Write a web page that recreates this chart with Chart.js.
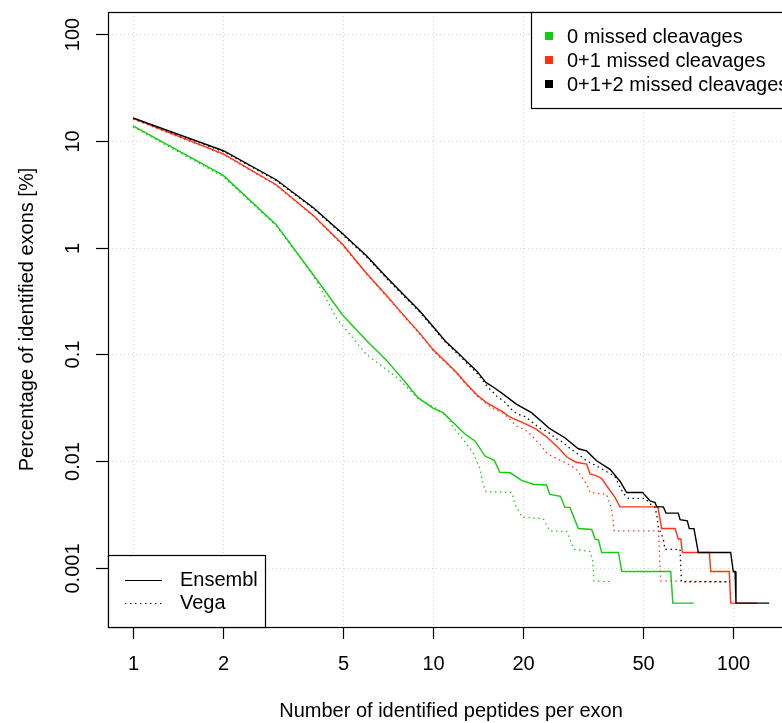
<!DOCTYPE html>
<html>
<head>
<meta charset="utf-8">
<script src="https://cdn.jsdelivr.net/npm/chart.js@4.4.0/dist/chart.umd.min.js"></script>
<style>
  html, body { margin: 0; padding: 0; background: #fff; overflow: hidden; }
  #wrap { position: relative; width: 782px; height: 723px; overflow: hidden; }
  canvas { position: absolute; left: 0; top: 0; }
</style>
</head>
<body>
<div id="wrap"><canvas id="exonChart" width="810" height="723"></canvas></div>
<script>
// Ticks of both log axes
const xTicks = [1, 2, 5, 10, 20, 50, 100];
const yTicks = [0.001, 0.01, 0.1, 1, 10, 100];
const yTickLabels = ["0.001", "0.01", "0.1", "1", "10", "100"];

// 0+1+2 missed cleavages, Ensembl (solid)
const blackEnsX = [1, 2, 3, 4, 5, 6, 7, 8, 9, 10, 11, 12, 13, 14, 15, 16, 17, 19, 21.3, 24.5, 27.5, 30.5, 32.5, 35.1, 38.9, 42, 44.2, 50, 50.9, 52.9, 55, 55.7, 58.6, 59.8, 65.7, 66.6, 70.4, 71.5, 74.1, 76.6, 98.2, 100.2, 101.6, 102.3, 132];
const blackEnsY = [16.4, 8.07, 4.32, 2.35, 1.35, 0.84, 0.528, 0.36, 0.258, 0.183, 0.133, 0.106, 0.0848, 0.0698, 0.0547, 0.0488, 0.0432, 0.0341, 0.0285, 0.0202, 0.0166, 0.0131, 0.0125, 0.0101, 0.0084, 0.0065, 0.0051, 0.0051, 0.0048, 0.00425, 0.0041, 0.00374, 0.00374, 0.00327, 0.00327, 0.00284, 0.00277, 0.00234, 0.00234, 0.0014, 0.0014, 0.00093, 0.00093, 0.00047, 0.00047];
// 0+1+2 missed cleavages, Vega (dotted)
const blackVegaX = [1, 2, 3, 4, 5, 6, 7, 8, 9, 10, 11, 12, 13, 14, 15, 16.3, 17.2, 18.5, 19.2, 20.3, 21.3, 23, 23.9, 25.9, 27.2, 27.9, 30.5, 32.5, 36, 40.4, 42, 43.1, 44.8, 50.9, 52.9, 55, 55.7, 56.4, 58.6, 59.3, 66.6, 67.3, 97.7];
const blackVegaY = [16.2, 7.95, 4.25, 2.31, 1.32, 0.82, 0.515, 0.35, 0.252, 0.178, 0.13, 0.103, 0.082, 0.067, 0.052, 0.0407, 0.0366, 0.0295, 0.0275, 0.0262, 0.0234, 0.0199, 0.0192, 0.0161, 0.015, 0.0139, 0.0116, 0.0101, 0.0087, 0.0072, 0.0057, 0.005, 0.0045, 0.0045, 0.004, 0.0037, 0.0031, 0.0024, 0.00187, 0.0015, 0.0015, 0.000745, 0.000745];

// 0+1 missed cleavages
const redEnsX = [1, 2, 3, 4, 5, 6, 7, 8, 9, 10, 11, 12, 13, 14, 15, 16, 17, 18, 20, 22, 24, 26, 28, 30, 32.5, 33.4, 35.1, 36.5, 37.9, 40.4, 42, 56.2, 57.8, 64.1, 65.7, 67, 67.8, 83.4, 84.3, 97.2, 98.2, 120];
const redEnsY = [16.2, 7.56, 3.88, 1.99, 1.07, 0.575, 0.356, 0.231, 0.16, 0.111, 0.086, 0.0675, 0.052, 0.042, 0.0358, 0.0322, 0.0293, 0.026, 0.0229, 0.0201, 0.0168, 0.0136, 0.0109, 0.0098, 0.0094, 0.0076, 0.0073, 0.0069, 0.0059, 0.0046, 0.00374, 0.00374, 0.00235, 0.00235, 0.00187, 0.00187, 0.0014, 0.0014, 0.00093, 0.00093, 0.00047, 0.00047];
const redVegaX = [1, 2, 3, 4, 5, 6, 7, 8, 9, 10, 11, 12, 13, 14, 15.7, 17.2, 19, 20.3, 21.1, 22.7, 24.2, 26.2, 28.2, 30.1, 32.5, 33.4, 37.9, 39.4, 40.2, 56.4, 57.4, 97.7];
const redVegaY = [16.0, 7.45, 3.82, 1.96, 1.05, 0.565, 0.35, 0.226, 0.157, 0.108, 0.084, 0.066, 0.051, 0.041, 0.0315, 0.0281, 0.0214, 0.0196, 0.0179, 0.0144, 0.0116, 0.0104, 0.0094, 0.0084, 0.0061, 0.0051, 0.0049, 0.00356, 0.00223, 0.00223, 0.00076, 0.000745];

// 0 missed cleavages
const greenEnsX = [1, 2, 3, 4, 5, 6, 7, 8, 8.9, 10, 10.8, 12, 12.8, 13.8, 14.9, 16, 16.7, 18.1, 19.8, 21.6, 23.9, 24.5, 26.6, 27.5, 28.6, 30.5, 33.8, 34.7, 35.6, 36.5, 41.5, 42.6, 62, 63, 74];
const greenEnsY = [13.8, 4.74, 1.64, 0.551, 0.233, 0.135, 0.088, 0.057, 0.0394, 0.0315, 0.0285, 0.0214, 0.0179, 0.0155, 0.0112, 0.0102, 0.0079, 0.0078, 0.0066, 0.0061, 0.006, 0.0049, 0.0047, 0.0037, 0.0037, 0.00235, 0.0023, 0.00187, 0.00184, 0.0014, 0.0014, 0.00093, 0.00093, 0.00047, 0.00047];
const greenVegaX = [1, 2, 3, 4, 4.8, 6, 7.6, 9, 10.3, 11.1, 11.8, 12.6, 13.6, 14.3, 14.7, 15, 18.3, 18.8, 19.8, 23.3, 24.5, 27.9, 29.5, 33.4, 34.1, 34.4, 39.6];
const greenVegaY = [13.5, 4.6, 1.6, 0.54, 0.212, 0.1, 0.0605, 0.038, 0.031, 0.0265, 0.02, 0.016, 0.012, 0.0087, 0.0061, 0.0052, 0.0051, 0.0039, 0.003, 0.0029, 0.00223, 0.0022, 0.0015, 0.00143, 0.00117, 0.00076, 0.000745];

const legendLabels = ["0 missed cleavages", "0+1 missed cleavages", "0+1+2 missed cleavages"];
const sourceLabels = ["Ensembl", "Vega"];

const GREEN = "#12cc12";
const RED = "#ff3212";
const BLACK = "#000000";
const FONT = '20px "Liberation Sans", Arial, Helvetica, sans-serif';

function pts(xs, ys) {
  return xs.map((x, i) => ({ x: x, y: ys[i] }));
}

function line(label, xs, ys, color, dotted) {
  return {
    label: label,
    data: pts(xs, ys),
    borderColor: color,
    borderWidth: dotted ? 1.3 : 1.4,
    borderDash: dotted ? [1.4, 3.6] : [],
    showLine: true,
    pointRadius: 0,
    tension: 0,
    fill: false,
  };
}

// Draw the R-style frame, ticks, grid and legends
const rFrame = {
  id: "rFrame",
  beforeDatasetsDraw(chart) {
    const ctx = chart.ctx;
    const a = chart.chartArea;
    const xs = chart.scales.x;
    const ys = chart.scales.y;
    ctx.save();
    ctx.strokeStyle = "#d4d4d4";
    ctx.lineWidth = 1;
    ctx.setLineDash([1, 3]);
    xTicks.forEach((v) => {
      const px = Math.round(xs.getPixelForValue(v)) + 0.5;
      ctx.beginPath();
      ctx.moveTo(px, a.top);
      ctx.lineTo(px, a.bottom);
      ctx.stroke();
    });
    yTicks.forEach((v) => {
      const py = Math.round(ys.getPixelForValue(v)) + 0.5;
      ctx.beginPath();
      ctx.moveTo(a.left, py);
      ctx.lineTo(a.right, py);
      ctx.stroke();
    });
    ctx.restore();
  },
  afterDatasetsDraw(chart) {
    const ctx = chart.ctx;
    const a = chart.chartArea;
    const xs = chart.scales.x;
    const ys = chart.scales.y;
    ctx.save();
    ctx.strokeStyle = "#000";
    ctx.fillStyle = "#000";
    ctx.lineWidth = 1.2;
    ctx.setLineDash([]);
    ctx.strokeRect(a.left + 0.5, a.top + 0.5, a.right - a.left, a.bottom - a.top);

    ctx.font = FONT;
    ctx.textAlign = "center";
    ctx.textBaseline = "middle";
    // x ticks
    xTicks.forEach((v) => {
      const px = Math.round(xs.getPixelForValue(v)) + 0.5;
      ctx.beginPath();
      ctx.moveTo(px, a.bottom);
      ctx.lineTo(px, a.bottom + 12);
      ctx.stroke();
      ctx.fillText(String(v), px, 664);
    });
    // y ticks (labels rotated like R's las = 0)
    yTicks.forEach((v, i) => {
      const py = Math.round(ys.getPixelForValue(v)) + 0.5;
      ctx.beginPath();
      ctx.moveTo(a.left - 12, py);
      ctx.lineTo(a.left, py);
      ctx.stroke();
      ctx.save();
      ctx.translate(73, py);
      ctx.rotate(-Math.PI / 2);
      ctx.fillText(yTickLabels[i], 0, 0);
      ctx.restore();
    });
    // axis titles
    ctx.fillText("Number of identified peptides per exon", (a.left + a.right) / 2, 711);
    ctx.save();
    ctx.translate(27, (a.top + a.bottom) / 2);
    ctx.rotate(-Math.PI / 2);
    ctx.fillText("Percentage of identified exons [%]", 0, 0);
    ctx.restore();

    // legend for cleavages (top right)
    ctx.fillStyle = "#fff";
    ctx.fillRect(531.5, a.top + 0.5, 400, 96);
    ctx.strokeRect(531.5, a.top + 0.5, 400, 96);
    const cols = [GREEN, RED, BLACK];
    ctx.textAlign = "left";
    legendLabels.forEach((t, i) => {
      const cy = 36 + i * 24;
      ctx.fillStyle = cols[i];
      ctx.fillRect(545, cy - 4, 8, 8);
      ctx.fillStyle = "#000";
      ctx.fillText(t, 567, cy + 1);
    });

    // legend for sources (bottom left)
    ctx.fillStyle = "#fff";
    ctx.fillRect(a.left + 0.5, 555.5, 157, a.bottom - 555);
    ctx.strokeRect(a.left + 0.5, 555.5, 157, a.bottom - 555);
    ctx.fillStyle = "#000";
    sourceLabels.forEach((t, i) => {
      const cy = 580 + i * 23;
      ctx.lineWidth = 1.2;
      ctx.setLineDash(i === 0 ? [] : [1.4, 3.6]);
      ctx.beginPath();
      ctx.moveTo(125, cy + 0.5);
      ctx.lineTo(162, cy + 0.5);
      ctx.stroke();
      ctx.setLineDash([]);
      ctx.fillText(t, 180, cy);
    });
    ctx.restore();
  },
};

const ctx = document.getElementById("exonChart").getContext("2d");
new Chart(ctx, {
  type: "scatter",
  data: {
    datasets: [
      line("0+1+2 Ensembl", blackEnsX, blackEnsY, BLACK, false),
      line("0+1+2 Vega", blackVegaX, blackVegaY, BLACK, true),
      line("0+1 Ensembl", redEnsX, redEnsY, RED, false),
      line("0+1 Vega", redVegaX, redVegaY, RED, true),
      line("0 Ensembl", greenEnsX, greenEnsY, GREEN, false),
      line("0 Vega", greenVegaX, greenVegaY, GREEN, true),
    ],
  },
  options: {
    responsive: false,
    animation: false,
    devicePixelRatio: 1,
    layout: { padding: { left: 108, top: 12, right: 16, bottom: 96 } },
    plugins: { legend: { display: false }, tooltip: { enabled: false } },
    scales: {
      x: { type: "logarithmic", display: false, min: 0.825, max: 159.7 },
      y: { type: "logarithmic", display: false, min: 0.000281, max: 160.6 },
    },
  },
  plugins: [rFrame],
});
</script>
</body>
</html>
